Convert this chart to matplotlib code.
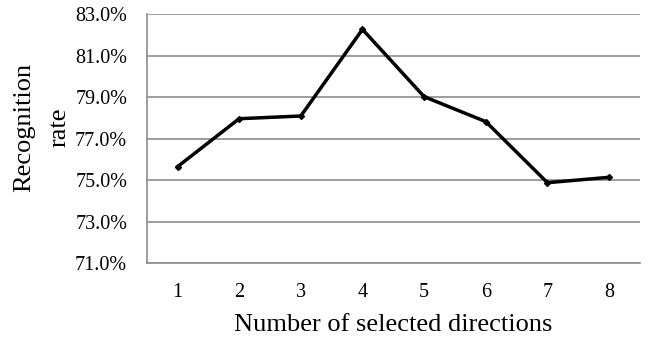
import matplotlib
matplotlib.use("Agg")
import matplotlib.pyplot as plt
from matplotlib.ticker import FuncFormatter

directions = [1, 2, 3, 4, 5, 6, 7, 8]
recognition_rate = [75.65, 77.96, 78.09, 82.26, 79.02, 77.82, 74.88, 75.14]
y_ticks = [71, 73, 75, 77, 79, 81, 83]

plt.rcParams['font.family'] = ['Liberation Serif', 'DejaVu Serif']

fig = plt.figure(figsize=(6.49, 3.39), dpi=100)
ax = fig.add_axes([0.226, 0.2233, 0.76, 0.7354])

ax.plot(directions, recognition_rate, color='black', linewidth=2.5,
        marker='D', markersize=3, zorder=3)

ax.set_xlim(0.5, 8.5)
ax.set_ylim(71, 83)
ax.set_yticks(y_ticks)
ax.set_xticks(directions)
ax.yaxis.set_major_formatter(FuncFormatter(lambda v, p: f"{v:.1f}%"))
ax.grid(axis='y', color='#8c8c8c', linewidth=1.2)
ax.set_axisbelow(True)

for s in ['top', 'right']:
    ax.spines[s].set_visible(False)
for s in ['left', 'bottom']:
    ax.spines[s].set_color('#8c8c8c')
    ax.spines[s].set_linewidth(1.2)

ax.tick_params(axis='both', length=0, labelsize=14.5)
ax.tick_params(axis='y', pad=14)
ax.tick_params(axis='x', pad=14)

ax.set_xlabel('Number of selected directions', fontsize=19, labelpad=9)
ax.set_ylabel('Recognition\nrate', fontsize=19, linespacing=1.75)
ax.yaxis.set_label_coords(-0.155, 0.545)

fig.savefig('out.png', dpi=100)
